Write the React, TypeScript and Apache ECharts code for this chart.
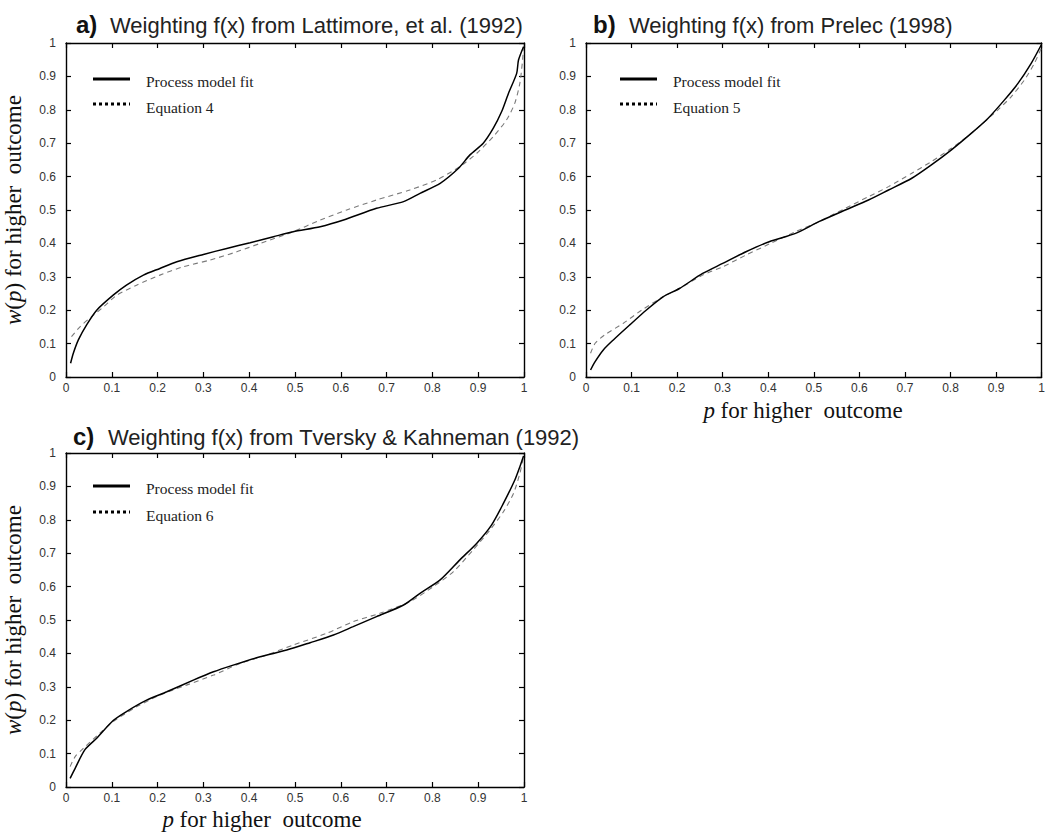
import { useEffect, useRef } from "react";
import * as echarts from "echarts";

// ---------- data ----------
const TICK_LABELS = ["0", "0.1", "0.2", "0.3", "0.4", "0.5", "0.6", "0.7", "0.8", "0.9", "1"];
const PANEL_LETTERS = ["a)", "b)", "c)"];
const PANEL_TITLES = [
  "Weighting f(x) from Lattimore, et al. (1992)",
  "Weighting f(x) from Prelec (1998)",
  "Weighting f(x) from Tversky & Kahneman (1992)",
];
const LEGEND_FIT = "Process model fit";
const LEGEND_EQ = ["Equation 4", "Equation 5", "Equation 6"];
const Y_LABEL = "{i|w}({i|p}) for higher  outcome";
const X_LABEL = "{i|p} for higher  outcome";

// Panel a: Lattimore
const aFitX = [0.01, 0.016, 0.027, 0.045, 0.067, 0.103, 0.132, 0.169, 0.205, 0.242, 0.3, 0.351, 0.402, 0.453, 0.496, 0.555, 0.606, 0.678, 0.737, 0.773, 0.817, 0.857, 0.882, 0.911, 0.933, 0.951, 0.966, 0.984, 0.988, 0.999];
const aFitY = [0.041, 0.071, 0.111, 0.156, 0.2, 0.245, 0.275, 0.305, 0.325, 0.345, 0.367, 0.385, 0.402, 0.42, 0.435, 0.45, 0.47, 0.505, 0.525, 0.55, 0.58, 0.625, 0.665, 0.7, 0.745, 0.794, 0.849, 0.909, 0.949, 0.989];
const aEqX = [0.012, 0.031, 0.056, 0.082, 0.111, 0.154, 0.205, 0.256, 0.314, 0.373, 0.424, 0.496, 0.555, 0.613, 0.678, 0.751, 0.809, 0.86, 0.897, 0.933, 0.962, 0.98, 0.991, 0.997, 0.999];
const aEqY = [0.121, 0.151, 0.181, 0.21, 0.245, 0.275, 0.305, 0.33, 0.35, 0.375, 0.4, 0.435, 0.47, 0.5, 0.53, 0.56, 0.59, 0.63, 0.67, 0.72, 0.77, 0.82, 0.88, 0.95, 0.99];

// Panel b: Prelec
const bFitX = [0.01, 0.02, 0.038, 0.06, 0.096, 0.132, 0.169, 0.205, 0.256, 0.3, 0.351, 0.402, 0.46, 0.511, 0.569, 0.62, 0.664, 0.715, 0.758, 0.802, 0.846, 0.882, 0.918, 0.948, 0.977, 0.999];
const bFitY = [0.021, 0.046, 0.081, 0.111, 0.156, 0.2, 0.24, 0.265, 0.31, 0.34, 0.375, 0.405, 0.43, 0.465, 0.5, 0.53, 0.56, 0.595, 0.635, 0.68, 0.73, 0.774, 0.829, 0.879, 0.939, 0.994];
const bEqX = [0.01, 0.02, 0.041, 0.082, 0.122, 0.169, 0.205, 0.256, 0.3, 0.351, 0.402, 0.46, 0.511, 0.569, 0.62, 0.664, 0.715, 0.758, 0.802, 0.846, 0.904, 0.933, 0.962, 0.984, 0.999];
const bEqY = [0.071, 0.101, 0.126, 0.161, 0.2, 0.24, 0.265, 0.305, 0.33, 0.365, 0.398, 0.435, 0.465, 0.505, 0.54, 0.57, 0.61, 0.645, 0.685, 0.73, 0.8, 0.839, 0.889, 0.939, 0.984];

// Panel c: Tversky & Kahneman
const cFitX = [0.009, 0.02, 0.041, 0.067, 0.103, 0.132, 0.176, 0.22, 0.278, 0.322, 0.365, 0.424, 0.482, 0.533, 0.584, 0.627, 0.678, 0.737, 0.773, 0.817, 0.86, 0.897, 0.929, 0.955, 0.98, 0.991, 0.999];
const cFitY = [0.026, 0.056, 0.111, 0.146, 0.199, 0.226, 0.26, 0.285, 0.32, 0.345, 0.365, 0.39, 0.41, 0.432, 0.455, 0.48, 0.51, 0.545, 0.58, 0.62, 0.68, 0.73, 0.784, 0.849, 0.919, 0.959, 0.991];
const cEqX = [0.009, 0.02, 0.038, 0.074, 0.103, 0.154, 0.205, 0.263, 0.322, 0.38, 0.438, 0.496, 0.569, 0.627, 0.685, 0.751, 0.802, 0.846, 0.889, 0.926, 0.955, 0.977, 0.991, 0.999];
const cEqY = [0.061, 0.091, 0.116, 0.161, 0.196, 0.24, 0.275, 0.305, 0.335, 0.37, 0.395, 0.425, 0.46, 0.495, 0.52, 0.555, 0.6, 0.645, 0.71, 0.77, 0.824, 0.879, 0.939, 0.989];

// ---------- layout ----------
const GRIDS = [
  { left: 66, top: 43 },
  { left: 586, top: 43 },
  { left: 66, top: 453 },
];
const GW = 458;
const GH = 334;

const zip = (xs: number[], ys: number[]) => xs.map((x, i) => [x, ys[i]]);

const SANS = "'Liberation Sans', Arial, sans-serif";
const SERIF = "'Liberation Serif', 'Times New Roman', serif";

function buildOption() {
  const fits = [zip(aFitX, aFitY), zip(bFitX, bFitY), zip(cFitX, cFitY)];
  const eqs = [zip(aEqX, aEqY), zip(bEqX, bEqY), zip(cEqX, cEqY)];
  const fmt = (v: number) => TICK_LABELS[Math.round(v * 10)] ?? "";
  const lineStyle = { color: "#000", width: 1.4 };
  const tick = { show: true, inside: true, length: 5, lineStyle: { color: "#000", width: 1.2 } };

  const grid = GRIDS.map((g) => ({ left: g.left, top: g.top, width: GW, height: GH, containLabel: false }));
  const xAxis: any[] = [];
  const yAxis: any[] = [];
  [0, 1, 2].forEach((i) => {
    xAxis.push({
      type: "value", gridIndex: i, position: "bottom", min: 0, max: 1, interval: 0.1,
      axisLine: { show: true, onZero: false, lineStyle },
      axisTick: tick,
      axisLabel: { show: true, formatter: fmt, fontSize: 12, color: "#333", margin: 5, fontFamily: SANS, showMinLabel: true, showMaxLabel: true },
      splitLine: { show: false },
    });
    yAxis.push({
      type: "value", gridIndex: i, position: "left", min: 0, max: 1, interval: 0.1,
      axisLine: { show: true, onZero: false, lineStyle },
      axisTick: tick,
      axisLabel: { show: true, formatter: fmt, fontSize: 12, color: "#333", margin: 10, fontFamily: SANS, showMinLabel: true, showMaxLabel: true },
      splitLine: { show: false },
    });
  });
  [0, 1, 2].forEach((i) => {
    xAxis.push({
      type: "value", gridIndex: i, position: "top", min: 0, max: 1, interval: 0.1,
      axisLine: { show: true, onZero: false, lineStyle },
      axisTick: tick, axisLabel: { show: false }, splitLine: { show: false },
    });
    yAxis.push({
      type: "value", gridIndex: i, position: "right", min: 0, max: 1, interval: 0.1,
      axisLine: { show: true, onZero: false, lineStyle },
      axisTick: tick, axisLabel: { show: false }, splitLine: { show: false },
    });
  });

  const series: any[] = [];
  [0, 1, 2].forEach((i) => {
    series.push({
      type: "line", name: LEGEND_EQ[i], xAxisIndex: i, yAxisIndex: i, data: eqs[i],
      showSymbol: false, smooth: 0.25, silent: true,
      lineStyle: { color: "#7a7a7a", width: 1.1, type: [5, 4] },
    });
    series.push({
      type: "line", name: LEGEND_FIT, xAxisIndex: i, yAxisIndex: i, data: fits[i],
      showSymbol: false, smooth: 0.25, silent: true,
      lineStyle: { color: "#000", width: 1.5 },
    });
  });

  const graphic: any[] = [];
  const titlePos = [
    { lx: 76, tx: 110, y: 24 },
    { lx: 593, tx: 629, y: 24 },
    { lx: 73, tx: 108, y: 436 },
  ];
  titlePos.forEach((p, i) => {
    graphic.push({
      type: "text", x: p.lx, y: p.y,
      style: { text: PANEL_LETTERS[i], fill: "#111", fontSize: 24, fontWeight: "bold", fontFamily: SANS, verticalAlign: "middle", align: "left" },
    });
    graphic.push({
      type: "text", x: p.tx, y: p.y + 1,
      style: { text: PANEL_TITLES[i], fill: "#222", fontSize: 22, fontFamily: SANS, verticalAlign: "middle", align: "left" },
    });
  });

  const legendPos = [
    { x0: 93, x1: 130, tx: 146, y1: 79, y2: 104 },
    { x0: 620, x1: 657, tx: 673, y1: 79, y2: 104 },
    { x0: 93, x1: 130, tx: 146, y1: 486, y2: 512 },
  ];
  legendPos.forEach((p, i) => {
    graphic.push({ type: "line", shape: { x1: p.x0, y1: p.y1, x2: p.x1, y2: p.y1 }, style: { stroke: "#000", lineWidth: 3 } });
    graphic.push({ type: "line", shape: { x1: p.x0, y1: p.y2, x2: p.x1, y2: p.y2 }, style: { stroke: "#000", lineWidth: 2.8, lineDash: [3, 3] } });
    graphic.push({ type: "text", x: p.tx, y: p.y1 + 2, style: { text: LEGEND_FIT, fill: "#222", fontSize: 15.5, fontFamily: SERIF, verticalAlign: "middle" } });
    graphic.push({ type: "text", x: p.tx, y: p.y2 + 3, style: { text: LEGEND_EQ[i], fill: "#222", fontSize: 15.5, fontFamily: SERIF, verticalAlign: "middle" } });
  });

  const rich = { i: { fontStyle: "italic", fontSize: 23, fontFamily: SERIF, fill: "#111" } };
  // y-axis labels (panels a and c)
  [{ x: 13, y: 210 }, { x: 13, y: 620 }].forEach((p) => {
    graphic.push({
      type: "text", x: p.x, y: p.y, rotation: Math.PI / 2,
      style: { text: Y_LABEL, rich, fill: "#111", fontSize: 23, fontFamily: SERIF, align: "center", verticalAlign: "middle" },
    });
  });
  // x-axis labels (panels b and c)
  [{ x: 803, y: 410 }, { x: 262, y: 819 }].forEach((p) => {
    graphic.push({
      type: "text", x: p.x, y: p.y,
      style: { text: X_LABEL, rich, fill: "#111", fontSize: 23, fontFamily: SERIF, align: "center", verticalAlign: "middle" },
    });
  });

  return { animation: false, backgroundColor: "#fff", grid, xAxis, yAxis, series, graphic };
}

export default function App() {
  const ref = useRef<HTMLDivElement>(null);
  useEffect(() => {
    document.body.style.margin = "0";
    if (!ref.current) return;
    const chart = echarts.init(ref.current, undefined, { renderer: "svg" });
    chart.setOption(buildOption() as any);
    return () => chart.dispose();
  }, []);
  return <div ref={ref} style={{ width: 1048, height: 837 }} />;
}
